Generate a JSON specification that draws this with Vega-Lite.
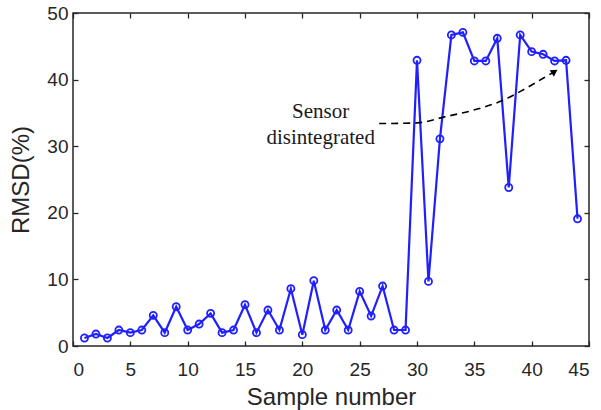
{
  "$schema": "https://vega.github.io/schema/vega-lite/v6.json",
  "width": 516,
  "height": 333,
  "autosize": {"type": "none"},
  "padding": {"left": 73, "top": 13, "right": 12, "bottom": 64},
  "background": "white",
  "config": {
    "view": {"stroke": "#262626", "strokeWidth": 1.5},
    "axis": {
      "grid": false,
      "domain": false,
      "tickColor": "#262626",
      "tickWidth": 1.3,
      "tickSize": -5,
      "labelColor": "#262626",
      "labelFont": "Liberation Sans",
      "labelFontSize": 19,
      "titleFont": "Liberation Sans",
      "titleFontSize": 24,
      "titleFontWeight": "normal",
      "titleColor": "#262626"
    }
  },
  "datasets": {
    "rmsd": [
      {"sample": 1, "rmsd": 1.2}, {"sample": 2, "rmsd": 1.8}, {"sample": 3, "rmsd": 1.2},
      {"sample": 4, "rmsd": 2.4}, {"sample": 5, "rmsd": 2.0}, {"sample": 6, "rmsd": 2.4},
      {"sample": 7, "rmsd": 4.6}, {"sample": 8, "rmsd": 2.0}, {"sample": 9, "rmsd": 5.9},
      {"sample": 10, "rmsd": 2.4}, {"sample": 11, "rmsd": 3.3}, {"sample": 12, "rmsd": 4.9},
      {"sample": 13, "rmsd": 2.0}, {"sample": 14, "rmsd": 2.4}, {"sample": 15, "rmsd": 6.2},
      {"sample": 16, "rmsd": 2.0}, {"sample": 17, "rmsd": 5.4}, {"sample": 18, "rmsd": 2.4},
      {"sample": 19, "rmsd": 8.6}, {"sample": 20, "rmsd": 1.7}, {"sample": 21, "rmsd": 9.8},
      {"sample": 22, "rmsd": 2.4}, {"sample": 23, "rmsd": 5.4}, {"sample": 24, "rmsd": 2.4},
      {"sample": 25, "rmsd": 8.2}, {"sample": 26, "rmsd": 4.5}, {"sample": 27, "rmsd": 9.0},
      {"sample": 28, "rmsd": 2.4}, {"sample": 29, "rmsd": 2.4}, {"sample": 30, "rmsd": 42.9},
      {"sample": 31, "rmsd": 9.7}, {"sample": 32, "rmsd": 31.1}, {"sample": 33, "rmsd": 46.7},
      {"sample": 34, "rmsd": 47.1}, {"sample": 35, "rmsd": 42.8}, {"sample": 36, "rmsd": 42.8},
      {"sample": 37, "rmsd": 46.2}, {"sample": 38, "rmsd": 23.8}, {"sample": 39, "rmsd": 46.7},
      {"sample": 40, "rmsd": 44.2}, {"sample": 41, "rmsd": 43.8}, {"sample": 42, "rmsd": 42.8},
      {"sample": 43, "rmsd": 42.9}, {"sample": 44, "rmsd": 19.1}
    ],
    "arrow": [
      {"x": 26.7, "y": 33.4, "o": 1}, {"x": 30.0, "y": 33.5, "o": 2}, {"x": 32.4, "y": 34.4, "o": 3},
      {"x": 34.9, "y": 35.4, "o": 4}, {"x": 37.5, "y": 36.9, "o": 5}, {"x": 39.2, "y": 38.4, "o": 6},
      {"x": 41.0, "y": 40.2, "o": 7}, {"x": 41.9, "y": 41.1, "o": 8}
    ],
    "head": [{"x": 42.0, "y": 41.2}],
    "labels": [
      {"x": 21.6, "y": 34.2, "text": "Sensor"},
      {"x": 21.6, "y": 30.3, "text": "disintegrated"}
    ]
  },
  "layer": [
    {
      "data": {"name": "rmsd"},
      "mark": {"type": "line", "color": "#1f1fff", "strokeWidth": 2.2},
      "encoding": {
        "x": {"field": "sample", "type": "quantitative",
              "scale": {"domain": [0, 45], "nice": false, "zero": false},
              "axis": {"orient": "bottom", "values": [0,5,10,15,20,25,30,35,40,45], "title": "Sample number", "labelPadding": 19, "titlePadding": 6}},
        "y": {"field": "rmsd", "type": "quantitative",
              "scale": {"domain": [0, 50], "nice": false},
              "axis": {"orient": "left", "values": [0,10,20,30,40,50], "title": "RMSD(%)", "labelPadding": 10, "titlePadding": 13}}
      }
    },
    {
      "data": {"name": "rmsd"},
      "mark": {"type": "point", "shape": "circle", "filled": false, "color": "#1f1fff", "size": 50, "strokeWidth": 1.8, "opacity": 1},
      "encoding": {
        "x": {"field": "sample", "type": "quantitative",
              "axis": {"orient": "top", "values": [0,5,10,15,20,25,30,35,40,45], "labels": false, "title": null}},
        "y": {"field": "rmsd", "type": "quantitative",
              "axis": {"orient": "right", "values": [0,10,20,30,40,50], "labels": false, "title": null}}
      }
    },
    {
      "data": {"name": "arrow"},
      "mark": {"type": "line", "color": "black", "strokeWidth": 1.6, "strokeDash": [7, 5], "interpolate": "monotone"},
      "encoding": {
        "x": {"field": "x", "type": "quantitative", "axis": null},
        "y": {"field": "y", "type": "quantitative", "axis": null},
        "order": {"field": "o"}
      }
    },
    {
      "data": {"name": "head"},
      "mark": {"type": "point", "shape": "triangle-right", "filled": true, "color": "black", "size": 60, "angle": -33, "opacity": 1},
      "encoding": {
        "x": {"field": "x", "type": "quantitative", "axis": null},
        "y": {"field": "y", "type": "quantitative", "axis": null}
      }
    },
    {
      "data": {"name": "labels"},
      "mark": {"type": "text", "font": "Liberation Serif", "fontSize": 21, "color": "#1a1a1a", "align": "center", "baseline": "alphabetic"},
      "encoding": {
        "x": {"field": "x", "type": "quantitative", "axis": null},
        "y": {"field": "y", "type": "quantitative", "axis": null},
        "text": {"field": "text"}
      }
    }
  ],
  "resolve": {"axis": {"x": "independent", "y": "independent"}}
}
